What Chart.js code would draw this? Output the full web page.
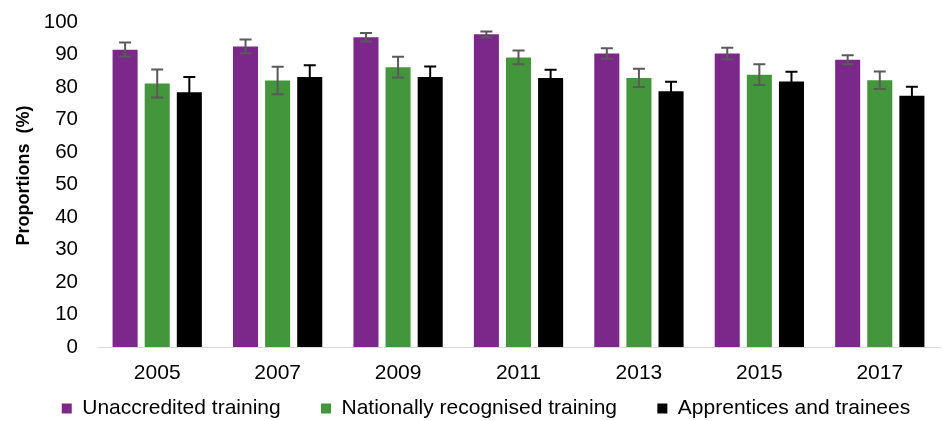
<!DOCTYPE html>
<html>
<head>
<meta charset="utf-8">
<script src="https://cdn.jsdelivr.net/npm/chart.js@4/dist/chart.umd.min.js"></script>
<style>
html,body{margin:0;padding:0;background:#fff;}
#wrap{width:942px;height:421px;position:relative;}
</style>
</head>
<body>
<div id="wrap"><canvas id="c"></canvas></div>
<script>
const years = ['2005','2007','2009','2011','2013','2015','2017'];
const unaccredited = [91.5, 92.5, 95.3, 96.2, 90.3, 90.3, 88.4];
const nationally   = [81.1, 82.0, 86.1, 89.1, 82.8, 83.8, 82.1];
const apprentices  = [78.4, 83.1, 83.1, 82.8, 78.7, 81.7, 77.3];
const unaccreditedErr = [2.2, 2.1, 1.3, 0.9, 1.6, 1.8, 1.4];
const nationallyErr   = [4.3, 4.2, 3.2, 2.1, 2.8, 3.2, 2.7];
const apprenticesErr  = [4.7, 3.6, 3.2, 2.5, 2.9, 3.0, 2.8];
const yTicks = [0,10,20,30,40,50,60,70,80,90,100];
const seriesNames = ['Unaccredited training', 'Nationally recognised training', 'Apprentices and trainees'];
const yTitle = 'Proportions  (%)';

const errorBars = {
  id: 'errorBars',
  afterDatasetsDraw(chart) {
    const ctx = chart.ctx;
    const y = chart.scales.y;
    chart.data.datasets.forEach((ds, i) => {
      const meta = chart.getDatasetMeta(i);
      if (meta.hidden) return;
      meta.data.forEach((el, j) => {
        const v = ds.data[j], e = ds.errors[j];
        const yt = y.getPixelForValue(v + e), yb = y.getPixelForValue(v - e);
        const x = el.x, hw = 6;
        ctx.save();
        ctx.strokeStyle = ds.errColor;
        ctx.lineWidth = 2;
        ctx.beginPath();
        ctx.moveTo(x, yt); ctx.lineTo(x, yb);
        ctx.moveTo(x - hw, yt); ctx.lineTo(x + hw, yt);
        ctx.moveTo(x - hw, yb); ctx.lineTo(x + hw, yb);
        ctx.stroke();
        ctx.restore();
      });
    });
  }
};

const fam = '"Liberation Sans", Arial, sans-serif';
const gapText = '\u2002\u2002\u2002 ';
const endText = '\u2002\u2002 ';

new Chart(document.getElementById('c'), {
  type: 'bar',
  data: {
    labels: years,
    datasets: [
      {label: seriesNames[0], data: unaccredited, errors: unaccreditedErr, backgroundColor: '#7B288A', errColor: '#5a5a5a'},
      {label: seriesNames[1], data: nationally, errors: nationallyErr, backgroundColor: '#43963B', errColor: '#5a5a5a'},
      {label: seriesNames[2], data: apprentices, errors: apprenticesErr, backgroundColor: '#000000', errColor: '#000000'}
    ]
  },
  options: {
    responsive: true,
    maintainAspectRatio: false,
    animation: false,
    devicePixelRatio: 1,
    layout: {padding: {top: 0, right: 2, left: 13, bottom: -8}},
    datasets: {bar: {categoryPercentage: 0.8, barPercentage: 0.78}},
    scales: {
      x: {
        grid: {display: false, drawTicks: false},
        border: {display: true, color: '#d9d9d9', width: 1},
        ticks: {color: '#000', font: {family: fam, size: 21}, padding: 14},
        afterFit(scale) { scale.height = 48; }
      },
      y: {
        min: 0, max: 100,
        afterBuildTicks(axis) { axis.ticks = yTicks.map(v => ({value: v})); },
        afterFit(scale) { scale.width = 84; scale.paddingTop = 22; },
        grid: {display: false, drawTicks: false},
        border: {display: false},
        ticks: {color: '#000', font: {family: fam, size: 20.5}, padding: 19},
        title: {display: true, text: '\u2002\u2002' + yTitle, color: '#000', font: {family: fam, size: 18, weight: 'bold'}, padding: {top: 0, bottom: 9}}
      }
    },
    plugins: {
      legend: {
        position: 'bottom',
        align: 'end',
        labels: {
          color: '#000', font: {family: fam, size: 21}, boxWidth: 10, boxHeight: 10, padding: 3,
          generateLabels(chart) {
            const n = chart.data.datasets.length;
            return chart.data.datasets.map((ds, i) => ({
              text: ds.label + (i < n - 1 ? gapText : endText),
              fillStyle: ds.backgroundColor,
              strokeStyle: ds.backgroundColor,
              lineWidth: 0,
              hidden: false,
              datasetIndex: i,
              fontColor: '#000'
            }));
          }
        }
      },
      tooltip: {enabled: false}
    }
  },
  plugins: [errorBars]
});
</script>
</body>
</html>
